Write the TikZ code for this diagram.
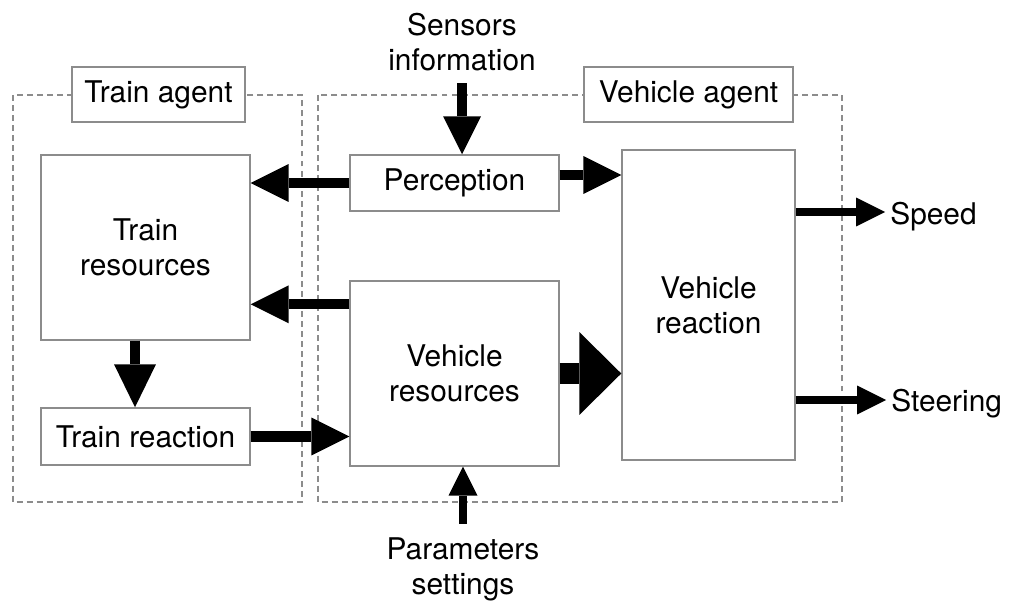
\documentclass[tikz,border=0pt]{standalone}
\usepackage{fontspec}
\setmainfont{TeX Gyre Heros}
\usetikzlibrary{arrows.meta}
\definecolor{boxgray}{RGB}{140,140,140}

\begin{document}
\begin{tikzpicture}[x=0.02cm, y=-0.02cm,
  font=\fontsize{17}{20}\selectfont,
  block/.style={draw=boxgray, line width=0.85pt, fill=white, align=center, inner sep=0pt},
  agentframe/.style={draw=boxgray, line width=1pt, dash pattern=on 3.4pt off 2.3pt},
  arr/.style={-{Triangle[length=0.76cm, width=0.76cm, line width=0pt]}, line width=5.7pt},
  smallarr/.style={-{Triangle[length=0.58cm, width=0.58cm, line width=0pt]}, line width=5pt},
  bigarr/.style={-{Triangle[length=0.84cm, width=1.66cm, line width=0pt]}, line width=11.4pt},
  outtext/.style={anchor=west, inner xsep=0.1cm, inner ysep=0pt}]
\useasboundingbox (0,0) rectangle (1014,601);

% agent frames
\draw[agentframe] (13,95) rectangle (302,502);
\draw[agentframe] (318,95) rectangle (842,502);
\node[block, minimum width=3.46cm, minimum height=1.1cm] (Train agent) at (158.5,94.5) {Train agent};
\node[block, minimum width=4.18cm, minimum height=1.1cm] (Vehicle agent) at (688.5,94.5) {Vehicle agent};

\node[block, minimum width=4.18cm, minimum height=3.7cm] (Train resources) at (145.5,247.5) {Train\\resources};
\node[block, minimum width=4.18cm, minimum height=1.14cm] (Train reaction) at (145.5,436.5) {Train reaction};
\node[block, minimum width=4.18cm, minimum height=1.12cm] (Perception) at (454.5,183) {Perception};
\node[block, minimum width=4.18cm, minimum height=3.7cm] (Vehicle resources) at (454.5,373.5) {Vehicle\\resources};
\node[block, minimum width=3.46cm, minimum height=6.2cm] (Vehicle reaction) at (708.5,305) {Vehicle\\reaction};

\node[align=center, inner sep=0pt] (Sensors) at (462,42) {Sensors\\information};
\node[align=center, inner sep=0pt] (Parameters) at (463,569) {Parameters\\settings};
\node[outtext] (Speed) at (885,217) {Speed};
\node[outtext] (Steering) at (886,404) {Steering};

\draw[arr, shorten <=0.24cm] (Sensors.south) -- (Sensors.south |- Perception.north);
\draw[smallarr, shorten <=0.26cm] (Parameters.north) -- (Parameters.north |- Vehicle resources.south);
\draw[arr] (Perception.west) -- (Perception.west -| Train resources.east);
\draw[arr] ([yshift=0.16cm]Perception.east) -- ([yshift=0.16cm]Perception.east -| Vehicle reaction.west);
\draw[arr] ([yshift=-0.48cm]Vehicle resources.north west) -- ([yshift=-0.48cm]Vehicle resources.north west -| Train resources.east);
\draw[bigarr] (Vehicle resources.east) -- (Vehicle resources.east -| Vehicle reaction.west);
\draw[arr, -{Triangle[length=0.86cm, width=0.84cm, line width=0pt]}] ([xshift=-0.21cm]Train resources.south) -- ([xshift=-0.21cm]Train resources.south |- Train reaction.north);
\draw[arr] (Train reaction.east) -- (Train reaction.east -| Vehicle resources.west);
\draw[smallarr] (Vehicle reaction.east |- 0,212) -- (Speed.west |- 0,212);
\draw[smallarr] (Vehicle reaction.east |- 0,400) -- (Steering.west |- 0,400);
\end{tikzpicture}
\end{document}
